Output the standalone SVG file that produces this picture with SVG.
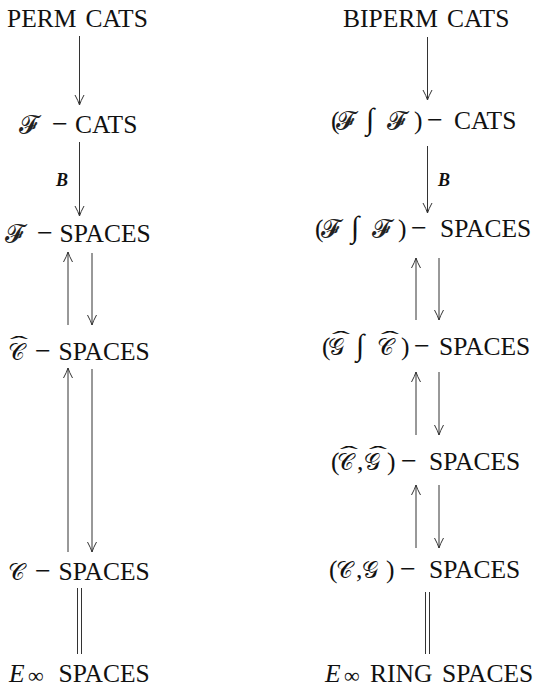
<svg xmlns="http://www.w3.org/2000/svg" width="537" height="687" viewBox="0 0 537 687">
<defs>
<marker id="ah" markerWidth="12" markerHeight="12" viewBox="-11 -6 12 12" refX="0" refY="0" orient="auto" markerUnits="userSpaceOnUse">
<path d="M-10,-4.5 Q-4,-1.2 0,0 Q-4,1.2 -10,4.5" fill="none" stroke="#333" stroke-width="1"/>
</marker>
</defs>
<style>
text{font-family:"Liberation Serif","Times New Roman",serif;font-size:25.5px;fill:#111}
.sf{font-family:"DejaVu Serif","DejaVu Sans",serif;font-size:25px;fill:#222}
.sc{font-family:"DejaVu Sans","DejaVu Serif",serif;font-size:22.5px}
.int{font-size:30px}
.mi{font-size:28px}
.i{font-style:italic}
.inf{font-size:22px}
.hat{font-size:25px;text-anchor:middle}
.lbl{font-size:18px;font-weight:bold;font-style:italic}
.a{stroke:#333;stroke-width:1;fill:none;marker-end:url(#ah)}
.d{stroke:#333;stroke-width:1;fill:none}
</style>
<rect width="537" height="687" fill="#fff"/>

<g id="perm-cats"><text x="7" y="27">PERM</text><text x="85.5" y="27">CATS</text></g>
<g id="f-cats"><text class="sf" x="19" y="133">𝓕</text><text class="mi" x="52" y="133">−</text><text x="75" y="133">CATS</text></g>
<g id="f-spaces"><text class="sf" x="5" y="242">𝓕</text><text class="mi" x="37" y="242">−</text><text x="59.5" y="242">SPACES</text></g>
<g id="chat-spaces"><text class="sc" x="8" y="360">𝒞</text><text class="hat" transform="translate(19,351) scale(2.2,0.85)">ˆ</text><text class="mi" x="35" y="360">−</text><text x="58.5" y="360">SPACES</text></g>
<g id="c-spaces"><text class="sc" x="8" y="580">𝒞</text><text class="mi" x="35" y="580">−</text><text x="58.5" y="580">SPACES</text></g>
<g id="einf-spaces"><text class="i" x="9" y="682">E</text><text class="inf" x="28" y="683">∞</text><text x="58.5" y="682">SPACES</text></g>

<g id="biperm-cats"><text x="343" y="27">BIPERM</text><text x="447" y="27">CATS</text></g>
<g id="ff-cats"><text x="331" y="129">(</text><text class="sf" x="336" y="129">𝓕</text><text class="int" x="366" y="129">∫</text><text class="sf" x="387" y="129">𝓕</text><text x="414" y="129">)</text><text class="mi" x="427" y="129">−</text><text x="454" y="129">CATS</text></g>
<g id="ff-spaces"><text x="315" y="237">(</text><text class="sf" x="321" y="237">𝓕</text><text class="int" x="351" y="237">∫</text><text class="sf" x="372" y="237">𝓕</text><text x="398" y="237">)</text><text class="mi" x="411" y="237">−</text><text x="440" y="237">SPACES</text></g>
<g id="gc-hat-spaces"><text x="322" y="355">(</text><text class="sc" x="328" y="355">𝒢</text><text class="hat" transform="translate(341,346) scale(2.2,0.85)">ˆ</text><text class="int" x="356" y="355">∫</text><text class="sc" x="377" y="355">𝒞</text><text class="hat" transform="translate(390,346) scale(2.2,0.85)">ˆ</text><text x="401" y="355">)</text><text class="mi" x="414" y="355">−</text><text x="439" y="355">SPACES</text></g>
<g id="cg-hat-spaces"><text x="331" y="470">(</text><text class="sc" x="337" y="470">𝒞</text><text class="hat" transform="translate(349,461) scale(2.2,0.85)">ˆ</text><text x="357" y="470">,</text><text class="sc" x="364" y="470">𝒢</text><text class="hat" transform="translate(378,461) scale(2.2,0.85)">ˆ</text><text x="387" y="470">)</text><text class="mi" x="401" y="470">−</text><text x="429" y="470">SPACES</text></g>
<g id="cg-spaces"><text x="329" y="578">(</text><text class="sc" x="336" y="578">𝒞</text><text x="356" y="578">,</text><text class="sc" x="362" y="578">𝒢</text><text x="386" y="578">)</text><text class="mi" x="400" y="578">−</text><text x="429" y="578">SPACES</text></g>
<g id="einf-ring-spaces"><text class="i" x="325" y="682">E</text><text class="inf" x="344" y="683">∞</text><text x="370" y="682">RING</text><text x="442" y="682">SPACES</text></g>

<g id="connectors">
<line class="a" x1="79.5" y1="36" x2="79.5" y2="105"/>
<line class="a" x1="79.5" y1="142" x2="79.5" y2="216"/>
<text class="lbl" x="56" y="186">B</text>
<line class="a" x1="68" y1="325" x2="68" y2="252"/>
<line class="a" x1="92" y1="253" x2="92" y2="325"/>
<line class="a" x1="68" y1="552" x2="68" y2="368"/>
<line class="a" x1="92" y1="369" x2="92" y2="552"/>
<line class="d" x1="77.5" y1="588" x2="77.5" y2="654"/>
<line class="d" x1="81.5" y1="588" x2="81.5" y2="654"/>

<line class="a" x1="427.5" y1="37" x2="427.5" y2="100"/>
<line class="a" x1="427.5" y1="146" x2="427.5" y2="213"/>
<text class="lbl" x="438" y="186">B</text>
<line class="a" x1="416" y1="320" x2="416" y2="258"/>
<line class="a" x1="439" y1="258" x2="439" y2="320"/>
<line class="a" x1="416" y1="435" x2="416" y2="372"/>
<line class="a" x1="439" y1="372" x2="439" y2="435"/>
<line class="a" x1="416" y1="548" x2="416" y2="485"/>
<line class="a" x1="439" y1="485" x2="439" y2="548"/>
<line class="d" x1="425.5" y1="592" x2="425.5" y2="654"/>
<line class="d" x1="429.5" y1="592" x2="429.5" y2="654"/>
</g>
</svg>
